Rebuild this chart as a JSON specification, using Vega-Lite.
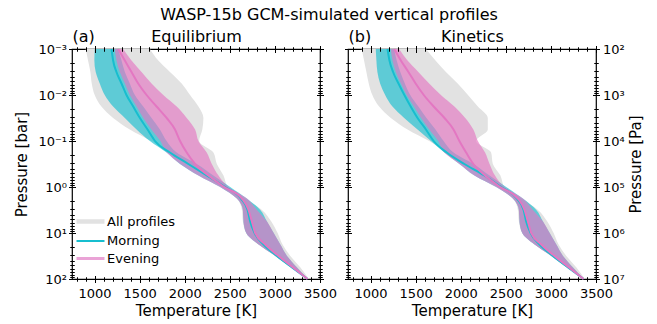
{
  "$schema": "https://vega.github.io/schema/vega-lite/v6.json",
  "padding": {"left": 14, "top": 7, "right": 5, "bottom": 2},
  "title": {"text": "WASP-15b GCM-simulated vertical profiles", "font": "DejaVu Sans", "fontSize": 16, "fontWeight": "normal", "color": "black", "anchor": "middle", "offset": 4},
  "config": {
    "font": "DejaVu Sans",
    "view": {"stroke": "black", "strokeWidth": 1.2},
    "axis": {"labelColor": "black", "titleColor": "black", "labelFont": "DejaVu Sans", "titleFont": "DejaVu Sans", "labelFontSize": 13, "titleFontSize": 15, "titleFontWeight": "normal"},
    "legend": {"labelFont": "DejaVu Sans", "labelFontSize": 13, "labelColor": "black"}
  },
  "spacing": 5,
  "datasets": {
    "eq": [
      {"s":"All profiles","p":0.001,"lo":902,"hi":1614},
      {"s":"All profiles","p":0.00178,"lo":928,"hi":1707},
      {"s":"All profiles","p":0.00316,"lo":954,"hi":1836},
      {"s":"All profiles","p":0.00562,"lo":969,"hi":1966},
      {"s":"All profiles","p":0.01,"lo":1002,"hi":2059},
      {"s":"All profiles","p":0.0178,"lo":1076,"hi":2152},
      {"s":"All profiles","p":0.0316,"lo":1206,"hi":2207},
      {"s":"All profiles","p":0.0562,"lo":1391,"hi":2195},
      {"s":"All profiles","p":0.1,"lo":1632,"hi":2160},
      {"s":"All profiles","p":0.178,"lo":1855,"hi":2318},
      {"s":"All profiles","p":0.316,"lo":2040,"hi":2356},
      {"s":"All profiles","p":0.562,"lo":2226,"hi":2430},
      {"s":"All profiles","p":1,"lo":2411,"hi":2480},
      {"s":"All profiles","p":1.78,"lo":2578,"hi":2671},
      {"s":"All profiles","p":3.16,"lo":2634,"hi":2856},
      {"s":"All profiles","p":5.62,"lo":2645,"hi":2960},
      {"s":"All profiles","p":10,"lo":2682,"hi":3030},
      {"s":"All profiles","p":17.8,"lo":2819,"hi":3085},
      {"s":"All profiles","p":31.6,"lo":3004,"hi":3171},
      {"s":"All profiles","p":56.2,"lo":3180,"hi":3283},
      {"s":"All profiles","p":100,"lo":3360,"hi":3375},
      {"s":"Morning","p":0.001,"lo":1002,"mid":1188,"hi":1262},
      {"s":"Morning","p":0.00178,"lo":998,"mid":1206,"hi":1299},
      {"s":"Morning","p":0.00316,"lo":1013,"mid":1243,"hi":1336},
      {"s":"Morning","p":0.00562,"lo":1058,"mid":1299,"hi":1391},
      {"s":"Morning","p":0.01,"lo":1113,"mid":1354,"hi":1447},
      {"s":"Morning","p":0.0178,"lo":1206,"mid":1429,"hi":1540},
      {"s":"Morning","p":0.0316,"lo":1336,"mid":1503,"hi":1632},
      {"s":"Morning","p":0.0562,"lo":1466,"mid":1588,"hi":1725},
      {"s":"Morning","p":0.1,"lo":1614,"mid":1670,"hi":1799},
      {"s":"Morning","p":0.178,"lo":1799,"mid":1836,"hi":1911},
      {"s":"Morning","p":0.316,"lo":1947,"mid":2040,"hi":2133},
      {"s":"Morning","p":0.562,"lo":2152,"mid":2244,"hi":2318},
      {"s":"Morning","p":1,"lo":2393,"mid":2448,"hi":2504},
      {"s":"Morning","p":1.78,"lo":2578,"mid":2622,"hi":2689},
      {"s":"Morning","p":3.16,"lo":2645,"mid":2697,"hi":2838},
      {"s":"Morning","p":5.62,"lo":2652,"mid":2726,"hi":2912},
      {"s":"Morning","p":10,"lo":2682,"mid":2775,"hi":2986},
      {"s":"Morning","p":17.8,"lo":2819,"mid":2875,"hi":3060},
      {"s":"Morning","p":31.6,"lo":3004,"mid":3023,"hi":3134},
      {"s":"Morning","p":56.2,"lo":3179,"mid":3190,"hi":3245},
      {"s":"Morning","p":100,"lo":3360,"mid":3362,"hi":3364},
      {"s":"Evening","p":0.001,"lo":1225,"mid":1262,"hi":1317},
      {"s":"Evening","p":0.00178,"lo":1243,"mid":1336,"hi":1410},
      {"s":"Evening","p":0.00316,"lo":1280,"mid":1410,"hi":1521},
      {"s":"Evening","p":0.00562,"lo":1336,"mid":1484,"hi":1632},
      {"s":"Evening","p":0.01,"lo":1391,"mid":1577,"hi":1762},
      {"s":"Evening","p":0.0178,"lo":1466,"mid":1688,"hi":1911},
      {"s":"Evening","p":0.0316,"lo":1540,"mid":1799,"hi":2022},
      {"s":"Evening","p":0.0562,"lo":1630,"mid":1892,"hi":2115},
      {"s":"Evening","p":0.1,"lo":1730,"mid":1948,"hi":2152},
      {"s":"Evening","p":0.178,"lo":1800,"mid":2022,"hi":2244},
      {"s":"Evening","p":0.316,"lo":1950,"mid":2115,"hi":2300},
      {"s":"Evening","p":0.562,"lo":2152,"mid":2263,"hi":2374},
      {"s":"Evening","p":1,"lo":2393,"mid":2437,"hi":2485},
      {"s":"Evening","p":1.78,"lo":2578,"mid":2634,"hi":2689},
      {"s":"Evening","p":3.16,"lo":2645,"mid":2708,"hi":2801},
      {"s":"Evening","p":5.62,"lo":2652,"mid":2745,"hi":2912},
      {"s":"Evening","p":10,"lo":2682,"mid":2782,"hi":2986},
      {"s":"Evening","p":17.8,"lo":2819,"mid":2893,"hi":3060},
      {"s":"Evening","p":31.6,"lo":3004,"mid":3041,"hi":3134},
      {"s":"Evening","p":56.2,"lo":3179,"mid":3201,"hi":3245},
      {"s":"Evening","p":100,"lo":3360,"mid":3362,"hi":3364}
    ],
    "kin": [
      {"s":"All profiles","p":0.001,"lo":902,"hi":1614},
      {"s":"All profiles","p":0.00178,"lo":928,"hi":1720},
      {"s":"All profiles","p":0.00316,"lo":954,"hi":1836},
      {"s":"All profiles","p":0.00562,"lo":980,"hi":1966},
      {"s":"All profiles","p":0.01,"lo":1020,"hi":2080},
      {"s":"All profiles","p":0.0178,"lo":1095,"hi":2190},
      {"s":"All profiles","p":0.0316,"lo":1225,"hi":2300},
      {"s":"All profiles","p":0.0562,"lo":1410,"hi":2300},
      {"s":"All profiles","p":0.1,"lo":1650,"hi":2170},
      {"s":"All profiles","p":0.178,"lo":1855,"hi":2337},
      {"s":"All profiles","p":0.316,"lo":2040,"hi":2356},
      {"s":"All profiles","p":0.562,"lo":2226,"hi":2440},
      {"s":"All profiles","p":1,"lo":2411,"hi":2485},
      {"s":"All profiles","p":1.78,"lo":2578,"hi":2671},
      {"s":"All profiles","p":3.16,"lo":2634,"hi":2856},
      {"s":"All profiles","p":5.62,"lo":2645,"hi":2960},
      {"s":"All profiles","p":10,"lo":2682,"hi":3030},
      {"s":"All profiles","p":17.8,"lo":2819,"hi":3085},
      {"s":"All profiles","p":31.6,"lo":3004,"hi":3171},
      {"s":"All profiles","p":56.2,"lo":3180,"hi":3283},
      {"s":"All profiles","p":100,"lo":3360,"hi":3375},
      {"s":"Morning","p":0.001,"lo":1058,"mid":1188,"hi":1262},
      {"s":"Morning","p":0.00178,"lo":1065,"mid":1210,"hi":1290},
      {"s":"Morning","p":0.00316,"lo":1076,"mid":1250,"hi":1330},
      {"s":"Morning","p":0.00562,"lo":1106,"mid":1310,"hi":1380},
      {"s":"Morning","p":0.01,"lo":1162,"mid":1375,"hi":1440},
      {"s":"Morning","p":0.0178,"lo":1243,"mid":1445,"hi":1530},
      {"s":"Morning","p":0.0316,"lo":1373,"mid":1521,"hi":1620},
      {"s":"Morning","p":0.0562,"lo":1521,"mid":1614,"hi":1720},
      {"s":"Morning","p":0.1,"lo":1670,"mid":1700,"hi":1810},
      {"s":"Morning","p":0.178,"lo":1818,"mid":1845,"hi":1920},
      {"s":"Morning","p":0.316,"lo":1985,"mid":2040,"hi":2140},
      {"s":"Morning","p":0.562,"lo":2152,"mid":2263,"hi":2320},
      {"s":"Morning","p":1,"lo":2393,"mid":2448,"hi":2504},
      {"s":"Morning","p":1.78,"lo":2578,"mid":2622,"hi":2689},
      {"s":"Morning","p":3.16,"lo":2645,"mid":2697,"hi":2838},
      {"s":"Morning","p":5.62,"lo":2652,"mid":2726,"hi":2912},
      {"s":"Morning","p":10,"lo":2682,"mid":2775,"hi":2986},
      {"s":"Morning","p":17.8,"lo":2819,"mid":2875,"hi":3060},
      {"s":"Morning","p":31.6,"lo":3004,"mid":3023,"hi":3134},
      {"s":"Morning","p":56.2,"lo":3179,"mid":3190,"hi":3245},
      {"s":"Morning","p":100,"lo":3360,"mid":3362,"hi":3364},
      {"s":"Evening","p":0.001,"lo":1225,"mid":1262,"hi":1317},
      {"s":"Evening","p":0.00178,"lo":1243,"mid":1336,"hi":1410},
      {"s":"Evening","p":0.00316,"lo":1280,"mid":1420,"hi":1530},
      {"s":"Evening","p":0.00562,"lo":1336,"mid":1500,"hi":1650},
      {"s":"Evening","p":0.01,"lo":1400,"mid":1590,"hi":1780},
      {"s":"Evening","p":0.0178,"lo":1480,"mid":1700,"hi":1930},
      {"s":"Evening","p":0.0316,"lo":1560,"mid":1820,"hi":2050},
      {"s":"Evening","p":0.0562,"lo":1650,"mid":1920,"hi":2140},
      {"s":"Evening","p":0.1,"lo":1750,"mid":1985,"hi":2190},
      {"s":"Evening","p":0.178,"lo":1818,"mid":2060,"hi":2270},
      {"s":"Evening","p":0.316,"lo":1985,"mid":2140,"hi":2320},
      {"s":"Evening","p":0.562,"lo":2152,"mid":2270,"hi":2380},
      {"s":"Evening","p":1,"lo":2393,"mid":2437,"hi":2485},
      {"s":"Evening","p":1.78,"lo":2578,"mid":2634,"hi":2689},
      {"s":"Evening","p":3.16,"lo":2645,"mid":2708,"hi":2801},
      {"s":"Evening","p":5.62,"lo":2652,"mid":2745,"hi":2912},
      {"s":"Evening","p":10,"lo":2682,"mid":2782,"hi":2986},
      {"s":"Evening","p":17.8,"lo":2819,"mid":2893,"hi":3060},
      {"s":"Evening","p":31.6,"lo":3004,"mid":3041,"hi":3134},
      {"s":"Evening","p":56.2,"lo":3179,"mid":3201,"hi":3245},
      {"s":"Evening","p":100,"lo":3360,"mid":3362,"hi":3364}
    ]
  },
  "hconcat": [
    {
      "width": 248, "height": 230,
      "data": {"name": "eq"},
      "resolve": {"axis": {"x": "independent", "y": "independent"}},
      "layer": [
        {
          "transform": [{"filter": "datum.s == 'All profiles'"}],
          "mark": {"type": "area", "orient": "horizontal", "interpolate": "monotone"},
          "encoding": {
            "y": {"field": "p", "type": "quantitative", "scale": {"type": "log", "domain": [0.001, 100], "reverse": true, "nice": false},
              "axis": {"orient": "left", "values": [0.001, 0.01, 0.1, 1, 10, 100], "domain": false, "grid": false, "ticks": true, "tickColor": "black", "tickWidth": 1, "zindex": 1, "tickSize": 7, "offset": -3.5, "labelPadding": 2, "labelFlush": false, "labelOverlap": false, "labelBound": false, "labelExpr": "'10' + ['⁻³','⁻²','⁻¹','⁰','¹','²'][round(log(datum.value)/LN10)+3]", "title": "Pressure [bar]", "titlePadding": 8}},
            "x": {"field": "lo", "type": "quantitative", "scale": {"domain": [750, 3500], "nice": false, "zero": false},
              "axis": {"orient": "bottom", "values": [1000, 1500, 2000, 2500, 3000, 3500], "format": "d", "domain": false, "grid": false, "ticks": true, "tickColor": "black", "tickWidth": 1, "zindex": 1, "tickSize": 7, "offset": -3.5, "labelPadding": 5, "labelFlush": false, "labelOverlap": false, "labelBound": false, "title": "Temperature [K]", "titlePadding": 3}},
            "x2": {"field": "hi"},
            "color": {"field": "s", "type": "nominal",
              "scale": {"domain": ["All profiles", "Morning", "Evening"], "range": ["#e2e2e2", "#17becf", "#e377c2"]},
              "legend": {"title": null, "orient": "none", "legendX": 12, "legendY": 166, "symbolType": "stroke", "symbolSize": 784, "rowPadding": 3.5, "labelOffset": 10,
                "encode": {"symbols": {"update": {
                  "stroke": {"signal": "datum.value == 'All profiles' ? '#e2e2e2' : datum.value == 'Morning' ? '#17becf' : '#eaa3d6'"},
                  "strokeWidth": {"signal": "datum.value == 'All profiles' ? 4.5 : datum.value == 'Morning' ? 2 : 3"},
                  "fill": {"value": "transparent"},
                  "opacity": {"value": 1}}}}}}
          }
        },
        {
          "transform": [{"filter": "datum.s == 'Morning'"}],
          "mark": {"type": "area", "orient": "horizontal", "interpolate": "monotone", "color": "#17becf", "opacity": 0.65},
          "encoding": {
            "y": {"field": "p", "type": "quantitative", "scale": {"type": "log", "domain": [0.001, 100], "reverse": true, "nice": false},
              "axis": {"orient": "left", "values": [0.002,0.003,0.004,0.005,0.006,0.007,0.008,0.009,0.02,0.03,0.04,0.05,0.06,0.07,0.08,0.09,0.2,0.3,0.4,0.5,0.6,0.7,0.8,0.9,2,3,4,5,6,7,8,9,20,30,40,50,60,70,80,90], "domain": false, "grid": false, "ticks": true, "tickColor": "black", "tickWidth": 1, "zindex": 1, "tickSize": 4.5, "offset": -2.25, "labels": false, "title": null}},
            "x": {"field": "lo", "type": "quantitative", "scale": {"domain": [750, 3500], "nice": false, "zero": false},
              "axis": {"orient": "bottom", "values": [800,900,1100,1200,1300,1400,1600,1700,1800,1900,2100,2200,2300,2400,2600,2700,2800,2900,3100,3200,3300,3400], "domain": false, "grid": false, "ticks": true, "tickColor": "black", "tickWidth": 1, "zindex": 1, "tickSize": 4.5, "offset": -2.25, "labels": false, "title": null}},
            "x2": {"field": "hi"}
          }
        },
        {
          "transform": [{"filter": "datum.s == 'Evening'"}],
          "mark": {"type": "area", "orient": "horizontal", "interpolate": "monotone", "color": "#e377c2", "opacity": 0.65},
          "encoding": {
            "y": {"field": "p", "type": "quantitative", "scale": {"type": "log", "domain": [0.001, 100], "reverse": true, "nice": false},
              "axis": {"orient": "right", "values": [0.001, 0.01, 0.1, 1, 10, 100], "domain": false, "grid": false, "ticks": true, "tickColor": "black", "tickWidth": 1, "zindex": 1, "tickSize": 7, "offset": -3.5, "labels": false, "title": null}},
            "x": {"field": "lo", "type": "quantitative", "scale": {"domain": [750, 3500], "nice": false, "zero": false},
              "axis": {"orient": "top", "values": [1000, 1500, 2000, 2500, 3000, 3500], "domain": false, "grid": false, "ticks": true, "tickColor": "black", "tickWidth": 1, "zindex": 1, "tickSize": 7, "offset": -3.5, "labels": false, "title": "Equilibrium", "titleFontSize": 16, "titleBaseline": "alphabetic", "titleY": -11.5}},
            "x2": {"field": "hi"}
          }
        },
        {
          "transform": [{"filter": "datum.s == 'Morning'"}],
          "mark": {"type": "line", "orient": "horizontal", "interpolate": "monotone", "color": "#17becf", "strokeWidth": 2},
          "encoding": {
            "y": {"field": "p", "type": "quantitative", "scale": {"type": "log", "domain": [0.001, 100], "reverse": true, "nice": false},
              "axis": {"orient": "right", "values": [0.002,0.003,0.004,0.005,0.006,0.007,0.008,0.009,0.02,0.03,0.04,0.05,0.06,0.07,0.08,0.09,0.2,0.3,0.4,0.5,0.6,0.7,0.8,0.9,2,3,4,5,6,7,8,9,20,30,40,50,60,70,80,90], "domain": false, "grid": false, "ticks": true, "tickColor": "black", "tickWidth": 1, "zindex": 1, "tickSize": 4.5, "offset": -2.25, "labels": false, "title": null}},
            "x": {"field": "mid", "type": "quantitative", "scale": {"domain": [750, 3500], "nice": false, "zero": false},
              "axis": {"orient": "top", "values": [800,900,1100,1200,1300,1400,1600,1700,1800,1900,2100,2200,2300,2400,2600,2700,2800,2900,3100,3200,3300,3400], "domain": false, "grid": false, "ticks": true, "tickColor": "black", "tickWidth": 1, "zindex": 1, "tickSize": 4.5, "offset": -2.25, "labels": false, "title": "(a)", "titleAnchor": "start", "titleFontSize": 16, "titleBaseline": "alphabetic", "titleY": -9.75}},
            "order": {"field": "p", "type": "quantitative"}
          }
        },
        {
          "transform": [{"filter": "datum.s == 'Evening'"}],
          "mark": {"type": "line", "orient": "horizontal", "interpolate": "monotone", "color": "#e377c2", "strokeWidth": 2},
          "encoding": {
            "y": {"field": "p", "type": "quantitative", "scale": {"type": "log", "domain": [0.001, 100], "reverse": true, "nice": false}, "axis": null},
            "x": {"field": "mid", "type": "quantitative", "scale": {"domain": [750, 3500], "nice": false, "zero": false}, "axis": null},
            "order": {"field": "p", "type": "quantitative"}
          }
        }
      ]
    },
    {
      "width": 248, "height": 230,
      "data": {"name": "kin"},
      "resolve": {"axis": {"x": "independent", "y": "independent"}},
      "layer": [
        {
          "transform": [{"filter": "datum.s == 'All profiles'"}],
          "mark": {"type": "area", "orient": "horizontal", "interpolate": "monotone", "color": "#e2e2e2"},
          "encoding": {
            "y": {"field": "p", "type": "quantitative", "scale": {"type": "log", "domain": [0.001, 100], "reverse": true, "nice": false},
              "axis": {"orient": "left", "values": [0.001, 0.01, 0.1, 1, 10, 100], "domain": false, "grid": false, "ticks": true, "tickColor": "black", "tickWidth": 1, "zindex": 1, "tickSize": 7, "offset": -3.5, "labels": false, "title": null}},
            "x": {"field": "lo", "type": "quantitative", "scale": {"domain": [750, 3500], "nice": false, "zero": false},
              "axis": {"orient": "bottom", "values": [1000, 1500, 2000, 2500, 3000, 3500], "format": "d", "domain": false, "grid": false, "ticks": true, "tickColor": "black", "tickWidth": 1, "zindex": 1, "tickSize": 7, "offset": -3.5, "labelPadding": 5, "labelFlush": false, "labelOverlap": false, "labelBound": false, "title": "Temperature [K]", "titlePadding": 3}},
            "x2": {"field": "hi"}
          }
        },
        {
          "transform": [{"filter": "datum.s == 'Morning'"}],
          "mark": {"type": "area", "orient": "horizontal", "interpolate": "monotone", "color": "#17becf", "opacity": 0.65},
          "encoding": {
            "y": {"field": "p", "type": "quantitative", "scale": {"type": "log", "domain": [0.001, 100], "reverse": true, "nice": false},
              "axis": {"orient": "left", "values": [0.002,0.003,0.004,0.005,0.006,0.007,0.008,0.009,0.02,0.03,0.04,0.05,0.06,0.07,0.08,0.09,0.2,0.3,0.4,0.5,0.6,0.7,0.8,0.9,2,3,4,5,6,7,8,9,20,30,40,50,60,70,80,90], "domain": false, "grid": false, "ticks": true, "tickColor": "black", "tickWidth": 1, "zindex": 1, "tickSize": 4.5, "offset": -2.25, "labels": false, "title": null}},
            "x": {"field": "lo", "type": "quantitative", "scale": {"domain": [750, 3500], "nice": false, "zero": false},
              "axis": {"orient": "bottom", "values": [800,900,1100,1200,1300,1400,1600,1700,1800,1900,2100,2200,2300,2400,2600,2700,2800,2900,3100,3200,3300,3400], "domain": false, "grid": false, "ticks": true, "tickColor": "black", "tickWidth": 1, "zindex": 1, "tickSize": 4.5, "offset": -2.25, "labels": false, "title": null}},
            "x2": {"field": "hi"}
          }
        },
        {
          "transform": [{"filter": "datum.s == 'Evening'"}],
          "mark": {"type": "area", "orient": "horizontal", "interpolate": "monotone", "color": "#e377c2", "opacity": 0.65},
          "encoding": {
            "y": {"field": "p", "type": "quantitative", "scale": {"type": "log", "domain": [0.001, 100], "reverse": true, "nice": false},
              "axis": {"orient": "right", "values": [0.001, 0.01, 0.1, 1, 10, 100], "domain": false, "grid": false, "ticks": true, "tickColor": "black", "tickWidth": 1, "zindex": 1, "tickSize": 7, "offset": -3.5, "labelPadding": 3, "labelFlush": false, "labelOverlap": false, "labelBound": false, "labelExpr": "'10' + ['²','³','⁴','⁵','⁶','⁷'][round(log(datum.value)/LN10)+3]", "title": "Pressure [Pa]", "titleAngle": 270, "titleBaseline": "top", "titlePadding": 4}},
            "x": {"field": "lo", "type": "quantitative", "scale": {"domain": [750, 3500], "nice": false, "zero": false},
              "axis": {"orient": "top", "values": [1000, 1500, 2000, 2500, 3000, 3500], "domain": false, "grid": false, "ticks": true, "tickColor": "black", "tickWidth": 1, "zindex": 1, "tickSize": 7, "offset": -3.5, "labels": false, "title": "Kinetics", "titleFontSize": 16, "titleBaseline": "alphabetic", "titleY": -11.5}},
            "x2": {"field": "hi"}
          }
        },
        {
          "transform": [{"filter": "datum.s == 'Morning'"}],
          "mark": {"type": "line", "orient": "horizontal", "interpolate": "monotone", "color": "#17becf", "strokeWidth": 2},
          "encoding": {
            "y": {"field": "p", "type": "quantitative", "scale": {"type": "log", "domain": [0.001, 100], "reverse": true, "nice": false},
              "axis": {"orient": "right", "values": [0.002,0.003,0.004,0.005,0.006,0.007,0.008,0.009,0.02,0.03,0.04,0.05,0.06,0.07,0.08,0.09,0.2,0.3,0.4,0.5,0.6,0.7,0.8,0.9,2,3,4,5,6,7,8,9,20,30,40,50,60,70,80,90], "domain": false, "grid": false, "ticks": true, "tickColor": "black", "tickWidth": 1, "zindex": 1, "tickSize": 4.5, "offset": -2.25, "labels": false, "title": null}},
            "x": {"field": "mid", "type": "quantitative", "scale": {"domain": [750, 3500], "nice": false, "zero": false},
              "axis": {"orient": "top", "values": [800,900,1100,1200,1300,1400,1600,1700,1800,1900,2100,2200,2300,2400,2600,2700,2800,2900,3100,3200,3300,3400], "domain": false, "grid": false, "ticks": true, "tickColor": "black", "tickWidth": 1, "zindex": 1, "tickSize": 4.5, "offset": -2.25, "labels": false, "title": "(b)", "titleAnchor": "start", "titleFontSize": 16, "titleBaseline": "alphabetic", "titleY": -9.75}},
            "order": {"field": "p", "type": "quantitative"}
          }
        },
        {
          "transform": [{"filter": "datum.s == 'Evening'"}],
          "mark": {"type": "line", "orient": "horizontal", "interpolate": "monotone", "color": "#e377c2", "strokeWidth": 2},
          "encoding": {
            "y": {"field": "p", "type": "quantitative", "scale": {"type": "log", "domain": [0.001, 100], "reverse": true, "nice": false}, "axis": null},
            "x": {"field": "mid", "type": "quantitative", "scale": {"domain": [750, 3500], "nice": false, "zero": false}, "axis": null},
            "order": {"field": "p", "type": "quantitative"}
          }
        }
      ]
    }
  ]
}
